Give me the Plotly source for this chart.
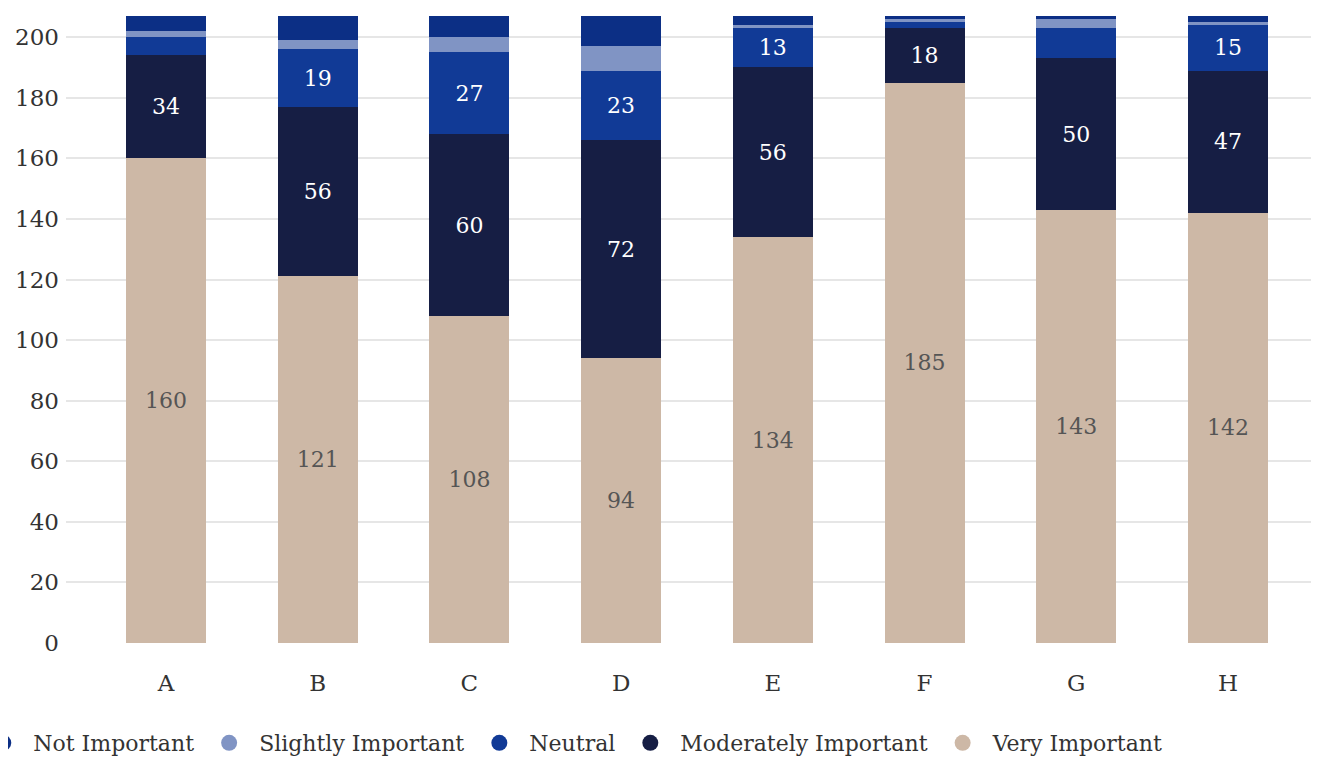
import plotly.graph_objects as go

categories = ["A", "B", "C", "D", "E", "F", "G", "H"]
very_important = [160, 121, 108, 94, 134, 185, 143, 142]
moderately_important = [34, 56, 60, 72, 56, 18, 50, 47]
neutral = [6, 19, 27, 23, 13, 2, 10, 15]
slightly_important = [2, 3, 5, 8, 1, 1, 3, 1]
not_important = [10, 11, 10, 11, 8, 6, 6, 7]

series = [
    ("Very Important", very_important, "#cdb8a6", "#555555"),
    ("Moderately Important", moderately_important, "#161e44", "#ffffff"),
    ("Neutral", neutral, "#113a96", "#ffffff"),
    ("Slightly Important", slightly_important, "#8094c4", "#ffffff"),
    ("Not Important", not_important, "#0c2f85", "#ffffff"),
]

FONT = "DejaVu Serif"
fig = go.Figure()
for name, vals, color, tcolor in series:
    fig.add_trace(go.Bar(
        x=categories, y=vals, name=name, marker=dict(color=color, line=dict(width=0)),
        text=[str(v) if v >= 12 else "" for v in vals],
        textposition="inside", insidetextanchor="middle", textangle=0,
        textfont=dict(family=FONT, size=22, color=tcolor),
        showlegend=False, hoverinfo="skip", width=0.527,
    ))

for name, vals, color, tcolor in reversed(series):
    fig.add_trace(go.Scatter(
        x=[None], y=[None], mode="markers", name=name,
        marker=dict(color=color, size=16, symbol="circle"),
        showlegend=True, hoverinfo="skip",
    ))

fig.update_layout(
    barmode="stack",
    width=1311, height=750,
    margin=dict(l=58, r=0, t=8, b=115, autoexpand=False),
    paper_bgcolor="white", plot_bgcolor="white",
    font=dict(family=FONT, size=22, color="#333333"),
    xaxis=dict(range=[-0.659, 7.6], showgrid=False, showline=False, zeroline=False,
               tickfont=dict(family=FONT, size=23, color="#333333"), ticklabelstandoff=24,
               ticks=""),
    yaxis=dict(range=[0, 207], dtick=20, showgrid=True, gridcolor="#e6e6e6", gridwidth=2,
               zeroline=False, showline=False, ticks="",
               tickfont=dict(family=FONT, size=23, color="#333333"), ticklabelstandoff=6),
    legend=dict(orientation="h", x=-0.074, xanchor="left", y=-0.126, yanchor="top",
                traceorder="normal", font=dict(family=FONT, size=22, color="#333333"),
                bgcolor="rgba(0,0,0,0)", itemwidth=50),
)

fig.write_html("out.html", config={"displayModeBar": False})
